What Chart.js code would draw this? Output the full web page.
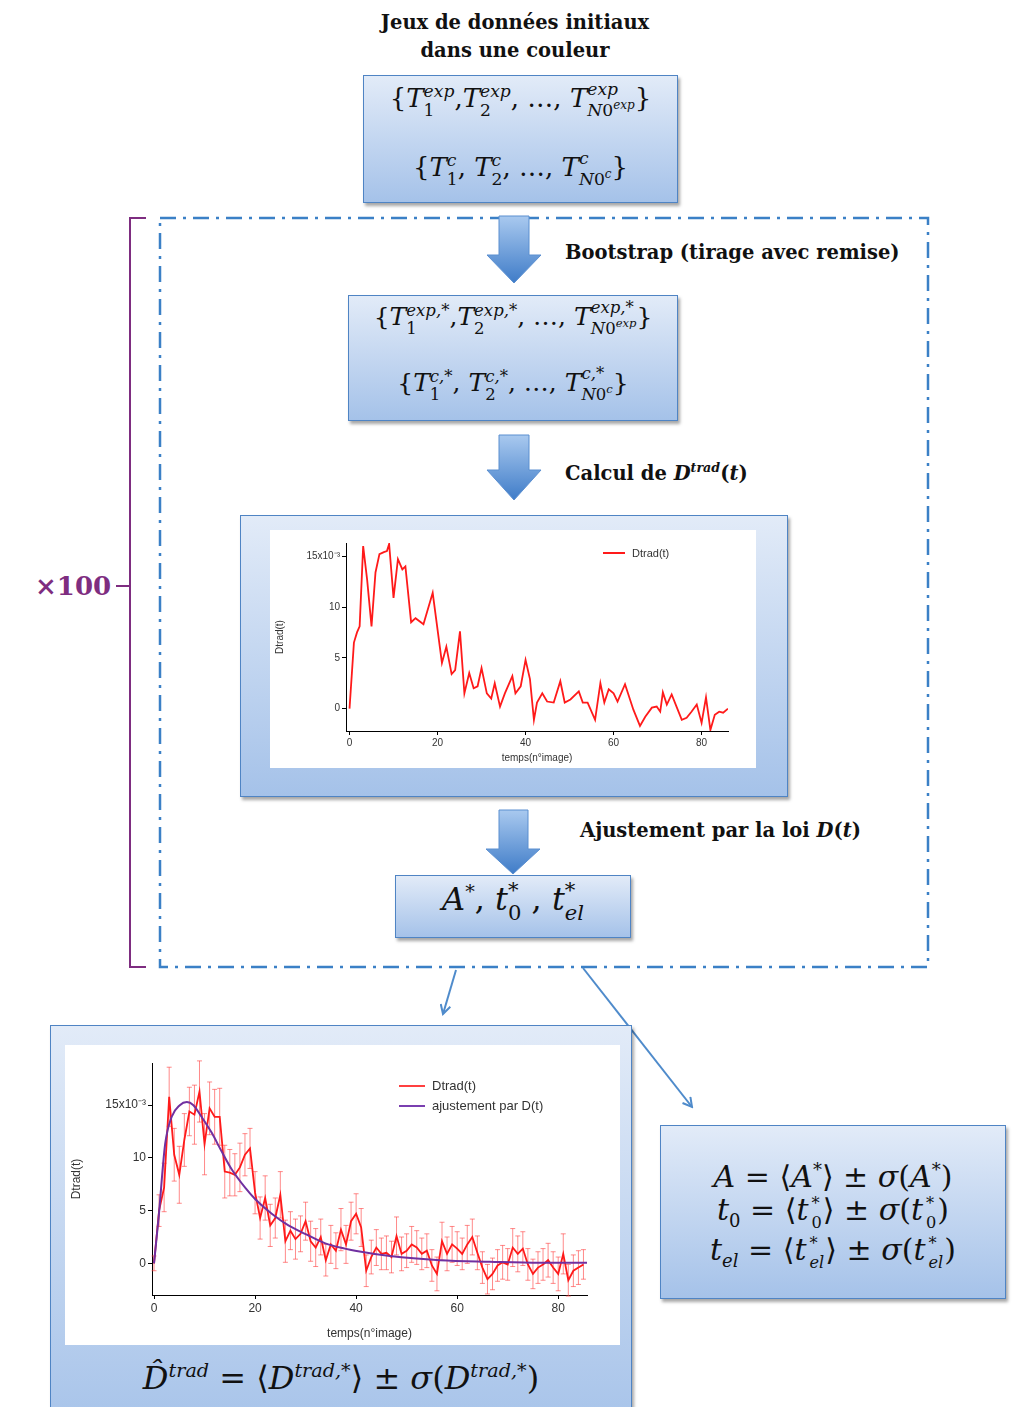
<!DOCTYPE html>
<html>
<head>
<meta charset="utf-8">
<script src="https://cdn.jsdelivr.net/npm/chart.js@4/dist/chart.umd.min.js"></script>
<style>
body{margin:0;background:#fff;}
#page{position:relative;width:1021px;height:1407px;overflow:hidden;background:#fff;}
.bx{position:absolute;box-sizing:border-box;background:linear-gradient(#e2ebf8,#a5c2e9);border:1.5px solid #4f84c4;box-shadow:2px 3px 3px rgba(0,0,0,0.35);}
.inner{position:absolute;background:#fff;}
.lbl{position:absolute;font-family:'DejaVu Serif',serif;font-weight:bold;font-size:19.5px;color:#111;white-space:nowrap;}
.m{position:absolute;font-family:'DejaVu Serif',serif;color:#111;white-space:nowrap;text-align:center;}
.m i{font-style:italic;}
.ss{display:inline-block;vertical-align:-0.5em;font-size:0.66em;line-height:1.1;text-align:left;}
.ss>span,.ss>i{display:block;}
.ln{height:40px;line-height:40px;overflow:visible;}
.ln .ss{font-size:0.54em;line-height:1.2;vertical-align:-0.5em;margin:0 1px 0 3px;}
.ln i{display:inline-block;}
.leg{position:absolute;font-family:'Liberation Sans',Arial,sans-serif;color:#333;white-space:nowrap;}
.leg div{display:flex;align-items:center;}
.leg b{display:inline-block;height:2px;margin-right:7px;}
svg{position:absolute;left:0;top:0;}
canvas{display:block;}
</style>
</head>
<body>
<div id="page">
<svg width="1021" height="1407">
  <defs>
    <linearGradient id="ag" x1="0" y1="0" x2="0" y2="1">
      <stop offset="0" stop-color="#a9c9ef"/>
      <stop offset="1" stop-color="#3f7cc8"/>
    </linearGradient>
    <marker id="ah" markerWidth="12" markerHeight="12" refX="10" refY="6" orient="auto" markerUnits="userSpaceOnUse">
      <path d="M1,1 L10,6 L1,11" fill="none" stroke="#4f8bcb" stroke-width="2"/>
    </marker>
  </defs>
  <rect x="160" y="218" width="768" height="749" fill="none" stroke="#3b80c6" stroke-width="2.5" stroke-dasharray="16 7 3 7"/>
  <path d="M146 218 H130 V967 H146 M130 586 H116" fill="none" stroke="#7e2d80" stroke-width="2"/>
  <text x="35" y="595" font-family="DejaVu Serif" font-weight="bold" font-size="26" fill="#7e2d80">×100</text>
  <line x1="456" y1="970" x2="443" y2="1014" stroke="#4f8bcb" stroke-width="2" marker-end="url(#ah)"/>
  <line x1="583" y1="968" x2="692" y2="1107" stroke="#4f8bcb" stroke-width="2" marker-end="url(#ah)"/>
</svg>

<div class="lbl" style="left:0;width:1030px;top:9px;text-align:center;line-height:28px;">Jeux de données initiaux<br>dans une couleur</div>

<div class="bx" style="left:363px;top:75px;width:315px;height:128px;"></div>
<div class="m" style="left:363px;width:315px;top:80px;font-size:26px;">{<i>T</i><span class="ss"><i>exp</i><span>1</span></span>,<i>T</i><span class="ss"><i>exp</i><span>2</span></span>, …, <i>T</i><span class="ss"><i>exp</i><span><i>N</i>0<sup style="font-size:0.7em"><i>exp</i></sup></span></span>}</div>
<div class="m" style="left:363px;width:315px;top:149px;font-size:26px;">{<i>T</i><span class="ss"><i>c</i><span>1</span></span>, <i>T</i><span class="ss"><i>c</i><span>2</span></span>, …, <i>T</i><span class="ss"><i>c</i><span><i>N</i>0<sup style="font-size:0.7em"><i>c</i></sup></span></span>}</div>

<div class="bx" style="left:348px;top:295px;width:330px;height:126px;"></div>
<div class="m" style="left:348px;width:330px;top:299px;font-size:25px;">{<i>T</i><span class="ss"><i>exp,*</i><span>1</span></span>,<i>T</i><span class="ss"><i>exp,*</i><span>2</span></span>, …, <i>T</i><span class="ss"><i>exp,*</i><span><i>N</i>0<sup style="font-size:0.7em"><i>exp</i></sup></span></span>}</div>
<div class="m" style="left:348px;width:330px;top:365px;font-size:25px;">{<i>T</i><span class="ss"><i>c,*</i><span>1</span></span>, <i>T</i><span class="ss"><i>c,*</i><span>2</span></span>, …, <i>T</i><span class="ss"><i>c,*</i><span><i>N</i>0<sup style="font-size:0.7em"><i>c</i></sup></span></span>}</div>

<div class="lbl" style="left:565px;top:241px;">Bootstrap (tirage avec remise)</div>
<div class="lbl" style="left:565px;top:460px;">Calcul de <i>D</i><sup style="font-size:0.65em"><i>trad</i></sup>(<i>t</i>)</div>
<div class="lbl" style="left:580px;top:819px;">Ajustement par la loi <i>D</i>(<i>t</i>)</div>

<div class="bx" style="left:240px;top:515px;width:548px;height:282px;"></div>
<div class="inner" style="left:270px;top:530px;width:486px;height:238px;">
  <canvas id="c1" width="486" height="238"></canvas>
  <div class="leg" style="left:333px;top:17px;font-size:11px;"><div><b style="width:22px;background:#ff1a1a"></b>Dtrad(t)</div></div>
</div>

<div class="bx" style="left:395px;top:875px;width:236px;height:63px;"></div>
<div class="m" style="left:395px;width:236px;top:878px;font-size:32px;"><i>A</i><sup style="font-size:0.6em">*</sup>, <i>t</i><span class="ss"><span>*</span><span>0</span></span> , <i>t</i><span class="ss"><span>*</span><i>el</i></span></div>

<div class="bx" style="left:50px;top:1025px;width:582px;height:420px;"></div>
<div class="inner" style="left:65px;top:1045px;width:555px;height:300px;">
  <canvas id="c2" width="555" height="300"></canvas>
  <div class="leg" style="left:334px;top:31px;font-size:13px;line-height:20px;">
    <div><b style="width:26px;background:#ff4040"></b>Dtrad(t)</div>
    <div><b style="width:26px;background:#7a3fb0"></b>ajustement par D(t)</div>
  </div>
</div>
<div class="m" style="left:50px;width:582px;top:1359px;font-size:32px;"><i>D̂</i><sup style="font-size:0.6em"><i>trad</i></sup> = ⟨<i>D</i><sup style="font-size:0.6em"><i>trad,*</i></sup>⟩ ± <i>σ</i>(<i>D</i><sup style="font-size:0.6em"><i>trad,*</i></sup>)</div>

<div class="bx" style="left:660px;top:1125px;width:346px;height:174px;"></div>
<div class="m" style="left:660px;width:346px;top:1150px;font-size:30px;">
<div class="ln"><i>A</i> = ⟨<i>A</i><sup style="font-size:0.6em">*</sup>⟩ ± <i>σ</i>(<i>A</i><sup style="font-size:0.6em">*</sup>)</div>
<div class="ln"><i>t</i><sub style="font-size:0.6em">0</sub> = ⟨<i>t</i><span class="ss"><span>*</span><span>0</span></span>⟩ ± <i>σ</i>(<i>t</i><span class="ss"><span>*</span><span>0</span></span>)</div>
<div class="ln"><i>t</i><sub style="font-size:0.6em"><i>el</i></sub> = ⟨<i>t</i><span class="ss"><span>*</span><i>el</i></span>⟩ ± <i>σ</i>(<i>t</i><span class="ss"><span>*</span><i>el</i></span>)</div>
</div>

<svg width="1021" height="1407" style="pointer-events:none">
  <path d="M499 216 H529 V255 H541 L514 283 L487 255 H499 Z" fill="url(#ag)" stroke="#5b8fd0" stroke-width="1"/>
  <path d="M499 435 H529 V470 H541 L514 500 L487 470 H499 Z" fill="url(#ag)" stroke="#5b8fd0" stroke-width="1"/>
  <path d="M499 810 H528 V849 H540 L513 874 L486 849 H499 Z" fill="url(#ag)" stroke="#5b8fd0" stroke-width="1"/>
</svg>
</div>

<script>
/* ---------- chart 1 : Dtrad(t) for one bootstrap draw (x10^-3) ---------- */
var t1=[0,1,1.7,2.3,3.1,4,5,5.9,6.8,7.8,8.5,9,10,11,12,12.7,14,15,16.8,18.9,21,22,23.2,24,25.1,26.1,27.2,28.2,29.1,30,31.2,32.2,33,34.2,35.3,37,37.7,38.9,40,41,41.9,42.6,43.8,44.9,46.4,47.9,48.9,50.2,52.1,53,54.1,55.8,57,57.9,58.9,60,60.9,62.6,64.5,66,67.2,68.7,69.8,70.6,71.2,72.1,73.2,74.3,75.5,76.6,77.7,78.9,80,81,82,83,84,84.9,86];
var d1=[0,6.5,7.5,8.1,16.0,12.7,8.1,13.4,15.2,15.4,15.5,16.2,10.9,14.7,13.7,14.0,8.5,8.9,8.3,11.4,4.5,6.1,3.4,3.8,7.6,1.5,3.5,2.0,2.2,4.0,1.5,1.0,2.5,0.2,1.5,3.2,1.5,2.2,4.8,2.9,-1.1,0.6,1.5,0.7,0.6,2.7,0.6,0.9,1.7,0.6,0.6,-1.1,2.5,0.6,1.9,1.5,0.7,2.4,-0.1,-1.7,-0.8,0.1,0.2,-0.3,1.6,0.4,1.4,0.2,-1.1,-0.9,-0.3,0.4,-1.4,1.1,-2.1,-0.6,-0.3,-0.4,0];

/* ---------- chart 2 : mean over 100 draws, with sigma (x10^-3) ---------- */
var d2=[0,5.0,7.2,15.8,10.3,8.4,11.7,14.4,14.1,16.3,11.3,14.7,13.9,13.9,8.7,8.6,8.4,9.1,10.3,10.9,6.7,4.3,6.2,3.6,4.3,6.5,2.1,3.1,2.3,2.8,4.0,2.1,1.5,2.5,0.3,1.8,1.2,3.2,1.8,4.0,4.7,3.4,-0.7,0.6,1.5,0.9,1.0,0.6,2.6,0.9,1.2,1.8,1.5,0.9,1.2,-0.2,-1.0,2.1,0.9,1.8,1.4,0.9,1.8,2.5,1.0,-0.4,-1.5,-1.0,-0.2,0.1,-0.1,1.5,0.9,1.4,-0.1,-1.0,-0.4,-0.1,0.3,-0.4,-1.0,0.9,-1.6,-0.7,-0.4,-0.1];
var e2=[0.7,1.5,2.3,2.8,2.5,2.7,2.5,2.3,2.8,2.9,2.9,2.5,2.6,2.7,2.5,2.2,2.0,2.3,2.0,1.9,2.0,2.0,2.1,2.0,1.9,2.2,2.0,1.8,1.9,1.7,1.8,1.9,1.8,1.7,1.5,1.8,1.7,2.0,1.8,1.8,1.9,1.8,1.5,1.6,1.7,1.5,1.6,1.5,1.8,1.6,1.6,1.7,1.6,1.5,1.6,1.5,1.6,1.8,1.6,1.7,1.6,1.5,1.8,1.7,1.6,1.5,1.4,1.5,1.5,1.6,1.5,1.8,1.7,1.6,1.5,1.4,1.5,1.5,1.6,1.5,1.6,1.9,1.5,1.5,1.6,1.4];
/* fitted law D(t) */
var tf=[0,0.9,2.2,3.5,5.1,6.5,7.8,9.4,11.4,13.4,15.4,18,20,23.3,26.6,29.9,33.9,37.8,39.8,46.7,56.6,66.5,76.4,85.7];
var df=[0,4.3,11.3,13.9,15.0,15.3,15.0,13.9,12.4,10.6,8.9,7.2,6.1,4.7,3.6,2.8,1.9,1.4,1.2,0.7,0.3,0.15,0.05,0.05];

var xTicks=[0,20,40,60,80];
var yTicks=[0,5,10,15];

function pts(xs,ys){return xs.map(function(x,i){return{x:x,y:ys[i]};});}
function yLab(v){return v===15?'15x10\u207B\u00B3':String(v);}

/* error bars drawn under the lines, through the chart's own scales */
var errBars={id:'errBars',beforeDatasetsDraw:function(ch){
  var xs=ch.scales.x,ys=ch.scales.y,ctx=ch.ctx;
  ctx.save();ctx.strokeStyle='rgba(255,60,60,0.6)';ctx.lineWidth=1;ctx.beginPath();
  d2.forEach(function(v,i){
    var px=xs.getPixelForValue(i),a=ys.getPixelForValue(v-e2[i]),b=ys.getPixelForValue(v+e2[i]);
    ctx.moveTo(px,a);ctx.lineTo(px,b);
    ctx.moveTo(px-2.5,a);ctx.lineTo(px+2.5,a);ctx.moveTo(px-2.5,b);ctx.lineTo(px+2.5,b);
  });
  ctx.stroke();ctx.restore();
}};

function axes(o){
  var tk={color:'#333',font:{family:'Liberation Sans',size:o.fs},padding:2};
  return{
    x:{type:'linear',min:o.xmin,max:o.xmax,
      afterBuildTicks:function(s){s.ticks=xTicks.map(function(v){return{value:v};});},
      ticks:Object.assign({},tk,{callback:function(v){return v;}}),
      grid:{drawOnChartArea:false,drawTicks:true,tickLength:4,color:'#000'},
      border:{color:'#000',width:1},
      title:{display:true,text:'temps(n°image)',color:'#333',font:{family:'Liberation Sans',size:o.ts},padding:{top:0}},
      afterFit:function(s){s.height=o.xh;}},
    y:{type:'linear',min:o.ymin,max:o.ymax,
      afterBuildTicks:function(s){s.ticks=yTicks.map(function(v){return{value:v};});},
      ticks:Object.assign({},tk,{callback:yLab}),
      grid:{drawOnChartArea:false,drawTicks:true,tickLength:4,color:'#000'},
      border:{color:'#000',width:1},
      title:{display:true,text:'Dtrad(t)',color:'#333',font:{family:'Liberation Sans',size:o.ts},padding:{bottom:0}},
      afterFit:function(s){s.width=o.yw;}}
  };
}

new Chart(document.getElementById('c1'),{
  type:'line',
  data:{datasets:[{label:'Dtrad(t)',data:pts(t1,d1),borderColor:'#ff1a1a',borderWidth:1.8,pointRadius:0,tension:0}]},
  options:{responsive:false,animation:false,
    layout:{padding:{top:13,right:28,left:0,bottom:0}},
    plugins:{legend:{display:false},tooltip:{enabled:false}},
    scales:axes({xmin:-0.8,xmax:86,ymin:-2.2,ymax:16.3,fs:10,ts:10,xh:37,yw:76})}
});

new Chart(document.getElementById('c2'),{
  type:'line',
  data:{datasets:[
    {label:'Dtrad(t)',data:d2.map(function(v,i){return{x:i,y:v};}),borderColor:'#ff1a1a',borderWidth:1.8,pointRadius:0,tension:0,order:1},
    {label:'ajustement par D(t)',data:pts(tf,df),borderColor:'#7030a0',borderWidth:2,pointRadius:0,cubicInterpolationMode:'monotone',order:0}
  ]},
  options:{responsive:false,animation:false,
    layout:{padding:{top:18,right:33,left:0,bottom:0}},
    plugins:{legend:{display:false},tooltip:{enabled:false}},
    scales:axes({xmin:-0.4,xmax:85.7,ymin:-3,ymax:19,fs:12,ts:12,xh:50,yw:87})},
  plugins:[errBars]
});
</script>
</body>
</html>
